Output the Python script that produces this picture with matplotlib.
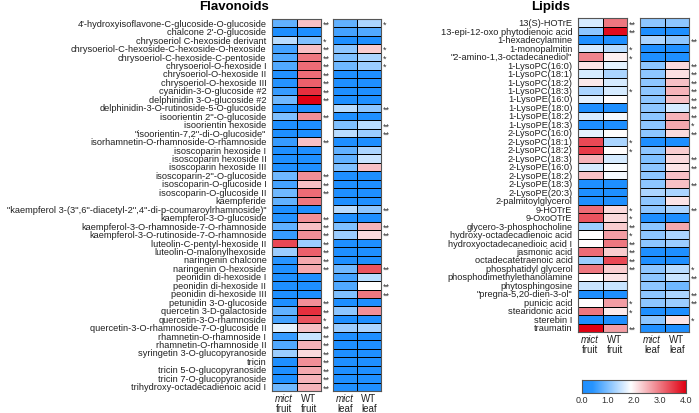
import numpy as np
import matplotlib
matplotlib.use('Agg')
import matplotlib.pyplot as plt
from matplotlib.colors import LinearSegmentedColormap

plt.rcParams['font.family'] = ['Liberation Sans', 'DejaVu Sans']

# Flavonoids
flav_names = [
    "4'-hydroxyisoflavone-C-glucoside-O-glucoside", "chalcone 2'-O-glucoside",
    "chrysoeriol C-hexoside derivant", "chrysoeriol-C-hexoside-C-hexoside-O-hexoside",
    "chrysoeriol-C-hexoside-C-pentoside", "chrysoeriol-O-hexoside I",
    "chrysoeriol-O-hexoside II", "chrysoeriol-O-hexoside III",
    "cyanidin-3-O-glucoside #2", "delphinidin 3-O-glucoside #2",
    "delphinidin-3-O-rutinoside-5-O-glucoside", "isoorientin 2''-O-glucoside",
    "isoorientin hexoside", "\"isoorientin-7,2''-di-O-glucoside\"",
    "isorhamnetin-O-rhamnoside-O-rhamnoside", "isoscoparin hexoside I",
    "isoscoparin hexoside II", "isoscoparin hexoside III",
    "isoscoparin-2''-O-glucoside", "isoscoparin-O-glucoside I",
    "isoscoparin-O-glucoside II", "kaempferide",
    "\"kaempferol 3-(3'',6''-diacetyl-2'',4''-di-p-coumaroylrhamnoside)\"",
    "kaempferol-3-O-glucoside", "kaempferol-3-O-rhamnoside-7-O-rhamnoside",
    "kaempferol-3-O-rutinoside-7-O-rhamnoside", "luteolin-C-pentyl-hexoside II",
    "luteolin-O-malonylhexoside", "naringenin chalcone", "naringenin O-hexoside",
    "peonidin di-hexoside I", "peonidin di-hexoside II", "peonidin di-hexoside III",
    "petunidin 3-O-glucoside", "quercetin 3-D-galactoside", "quercetin-3-O-rhamnoside",
    "quercetin-3-O-rhamnoside-7-O-glucoside II", "rhamnetin-O-rhamnoside I",
    "rhamnetin-O-rhamnoside II", "syringetin 3-O-glucopyranoside", "tricin",
    "tricin 5-O-glucopyranoside", "tricin 7-O-glucopyranoside",
    "trihydroxy-octadecadienoic acid I",
]
flav_mict_fruit = [0.8, 0, 1.4, 0.6, 0.7, 0.7, 0.2, 0.3, 0.5, 0.9, 0, 1.0, 0, 0, 0.5,
                   0, 0, 0, 0.9, 0.6, 0.9, 0.8, 0, 0.3, 0.8, 0.5, 3.4, 1.2, 0.4, 0.1,
                   0, 0, 0, 0, 0.8, 0.6, 1.7, 0.5, 0.7, 1.2, 0, 0, 0, 0.9]
flav_wt_fruit = [2.4, 0, 1.0, 2.4, 3.0, 3.1, 3.1, 3.2, 3.6, 4.0, 0, 2.8, 0, 0, 2.4,
                 0, 0, 0, 2.8, 2.4, 3.1, 3.0, 0, 2.8, 2.4, 2.8, 1.2, 3.2, 2.6, 2.6,
                 0, 0, 0, 2.8, 3.6, 3.3, 2.4, 1.5, 2.5, 2.2, 2.8, 2.6, 2.5, 2.5]
flav_mict_leaf = [0.8, 0.6, 0, 1.1, 1.0, 0.9, 0, 0, 0, 0, 1.4, 0, 1.0, 1.4, 0,
                  0.8, 0.8, 1.0, 0, 0, 0, 0, 1.4, 0, 1.0, 1.2, 0, 0, 0, 0.9,
                  0.6, 0.7, 1.0, 0, 1.1, 0, 1.2, 0, 0, 0, 0, 0, 0, 0]
flav_wt_leaf = [1.3, 0.7, 0, 2.3, 1.3, 1.2, 0, 0, 0, 0, 1.1, 0, 1.4, 1.2, 0,
                1.3, 1.5, 2.4, 0, 0, 0, 0, 1.1, 0, 2.5, 2.2, 0, 0, 0, 3.3,
                1.4, 1.9, 3.0, 0, 2.8, 0, 1.3, 0, 0, 0, 0, 0, 0, 0]
flav_fruit_sig = ['**', '', '*', '**', '**', '**', '**', '**', '**', '**', '', '**', '', '', '**',
                  '', '', '', '**', '**', '**', '', '', '**', '**', '**', '**', '**', '**', '**',
                  '', '', '', '**', '**', '*', '**', '**', '**', '**', '**', '**', '**', '**']
flav_leaf_sig = ['*', '', '', '*', '*', '*', '', '', '', '', '**', '', '**', '**', '',
                 '', '', '', '', '', '', '', '**', '', '**', '**', '', '', '', '**',
                 '', '**', '**', '', '', '', '', '', '', '', '', '', '', '']

# Lipids
lip_names = [
    "13(S)-HOTrE", "13-epi-12-oxo phytodienoic acid", "1-hexadecylamine",
    "1-monopalmitin", "\"2-amino-1,3-octadecanediol\"", "1-LysoPC(16:0)",
    "1-LysoPC(18:1)", "1-LysoPC(18:2)", "1-LysoPC(18:3)", "1-LysoPE(16:0)",
    "1-LysoPE(18:0)", "1-LysoPE(18:2)", "1-LysoPE(18:3)", "2-LysoPC(16:0)",
    "2-LysoPC(18:1)", "2-LysoPC(18:2)", "2-LysoPC(18:3)", "2-LysoPE(16:0)",
    "2-LysoPE(18:2)", "2-LysoPE(18:3)", "2-LysoPE(20:3)", "2-palmitoylglycerol",
    "9-HOTrE", "9-OxoOTrE", "glycero-3-phosphocholine",
    "hydroxy-octadecadienoic acid", "hydroxyoctadecanedioic acid I",
    "jasmonic acid", "octadecatetraenoic acid", "phosphatidyl glycerol",
    "phosphodimethylethanolamine", "phytosphingosine", "\"pregna-5,20-dien-3-ol\"",
    "punicic acid", "stearidonic acid", "sterebin I", "traumatin",
]
lip_mict_fruit = [1.6, 1.1, 0, 1.6, 2.9, 2.1, 1.6, 2.05, 1.3, 1.7, 0, 1.6, 0, 1.7,
                  3.4, 3.5, 2.5, 1.6, 2.4, 0, 0, 0, 3.1, 3.3, 1.2, 1.9, 1.9, 3.1,
                  1.2, 3.0, 1.9, 1.5, 0, 1.9, 3.0, 0, 4.0]
lip_wt_fruit = [3.0, 3.9, 0, 1.4, 2.0, 1.7, 1.3, 1.6, 1.6, 1.9, 0, 1.8, 0, 1.9,
                1.3, 1.9, 1.6, 1.85, 1.8, 0, 0, 0, 2.2, 2.2, 2.3, 2.7, 3.0, 2.3,
                3.4, 2.3, 2.1, 1.5, 0, 2.7, 2.05, 0, 2.7]
lip_mict_leaf = [1.1, 0, 1.3, 0, 0, 1.1, 1.1, 1.1, 1.1, 1.1, 1.1, 1.1, 1.1, 1.1,
                 0, 1.1, 1.0, 1.1, 1.1, 1.1, 1.3, 1.1, 1.1, 0, 1.1, 1.1, 1.1, 0,
                 0, 1.1, 1.1, 1.1, 1.1, 1.1, 0, 1.1, 0]
lip_wt_leaf = [1.1, 0, 1.1, 0, 0, 2.2, 2.15, 2.4, 2.5, 2.4, 1.6, 2.5, 2.6, 2.2,
               0, 2.3, 2.2, 2.1, 2.4, 2.4, 1.3, 2.1, 1.3, 0, 2.6, 1.3, 1.2, 0,
               0, 1.4, 1.5, 0.9, 1.3, 1.2, 0, 2.1, 0]
lip_fruit_sig = ['**', '**', '', '*', '*', '', '', '', '*', '', '', '', '', '',
                 '*', '*', '', '', '', '', '', '', '*', '*', '**', '*', '**', '**',
                 '**', '**', '', '', '', '*', '*', '', '**']
lip_leaf_sig = ['', '', '**', '', '', '**', '**', '**', '**', '**', '**', '**', '*', '**',
                '', '', '**', '**', '', '**', '', '', '**', '', '', '', '', '',
                '', '*', '**', '', '**', '**', '', '*', '']

cmap = LinearSegmentedColormap.from_list(
    'bwr_custom', [(0.0, '#1e8fff'), (0.1, '#2794ff'), (0.47, '#ffffff'), (1.0, '#e00012')])

W, H = 699, 413
fig = plt.figure(figsize=(W / 100, H / 100), dpi=100)


def add_ax(x0, x1, y0, y1):
    return fig.add_axes([x0 / W, 1 - y1 / H, (x1 - x0) / W, (y1 - y0) / H])


def draw_block(ax, a, b, sig, names=None, tissue='fruit'):
    data = np.column_stack([a, b])
    n = len(a)
    ax.pcolormesh(data, cmap=cmap, vmin=0, vmax=4, edgecolors='black', linewidth=0.7)
    ax.set_xlim(0, 2)
    ax.set_ylim(n, 0)
    ax.set_xticks([])
    for s in ax.spines.values():
        s.set_linewidth(0.8)
        s.set_color('#555555')
    if names is not None:
        ax.set_yticks(np.arange(n) + 0.5)
        ax.set_yticklabels(names, fontsize=6.7, color='#222222')
        ax.tick_params(axis='y', length=0, pad=4)
    else:
        ax.set_yticks([])
    for i, s in enumerate(sig):
        if s:
            ax.text(2.06, i + 0.75, s, fontsize=6.5, color='#333333',
                    ha='left', va='center', clip_on=False)
    for j, lab in enumerate(['mict', 'WT']):
        ax.text(j + 0.5, n + 0.9, lab, fontsize=7, ha='center', va='center',
                style='italic' if lab == 'mict' else 'normal', color='#222222')
        ax.text(j + 0.5, n + 2.15, tissue, fontsize=7, ha='center', va='center', color='#222222')


# left panel
ax1 = add_ax(272, 321, 19, 391)
draw_block(ax1, flav_mict_fruit, flav_wt_fruit, flav_fruit_sig, flav_names, 'fruit')
ax2 = add_ax(333, 381, 19, 391)
draw_block(ax2, flav_mict_leaf, flav_wt_leaf, flav_leaf_sig, None, 'leaf')
fig.text(234 / W, 1 - 7 / H, 'Flavonoids', fontsize=9.5, fontweight='bold', ha='center', va='center')

# right panel
ax3 = add_ax(578, 627, 18.5, 332)
draw_block(ax3, lip_mict_fruit, lip_wt_fruit, lip_fruit_sig, lip_names, 'fruit')
ax4 = add_ax(640, 689, 18.5, 332)
draw_block(ax4, lip_mict_leaf, lip_wt_leaf, lip_leaf_sig, None, 'leaf')
fig.text(551 / W, 1 - 7 / H, 'Lipids', fontsize=9.5, fontweight='bold', ha='center', va='center')

# colorbar
cax = add_ax(582, 686, 380, 393)
grad = np.linspace(0, 4, 256).reshape(1, -1)
cax.imshow(grad, aspect='auto', cmap=cmap, vmin=0, vmax=4, extent=[0, 4, 0, 1])
cax.set_yticks([])
cax.set_xticks([0, 1, 2, 3, 4])
cax.set_xticklabels(['0.0', '1.0', '2.0', '3.0', '4.0'], fontsize=6.5, color='#333333')
cax.tick_params(axis='x', length=0, pad=2)
for s in cax.spines.values():
    s.set_linewidth(0.8)
    s.set_color('#555555')

fig.savefig('out.png', dpi=100)
